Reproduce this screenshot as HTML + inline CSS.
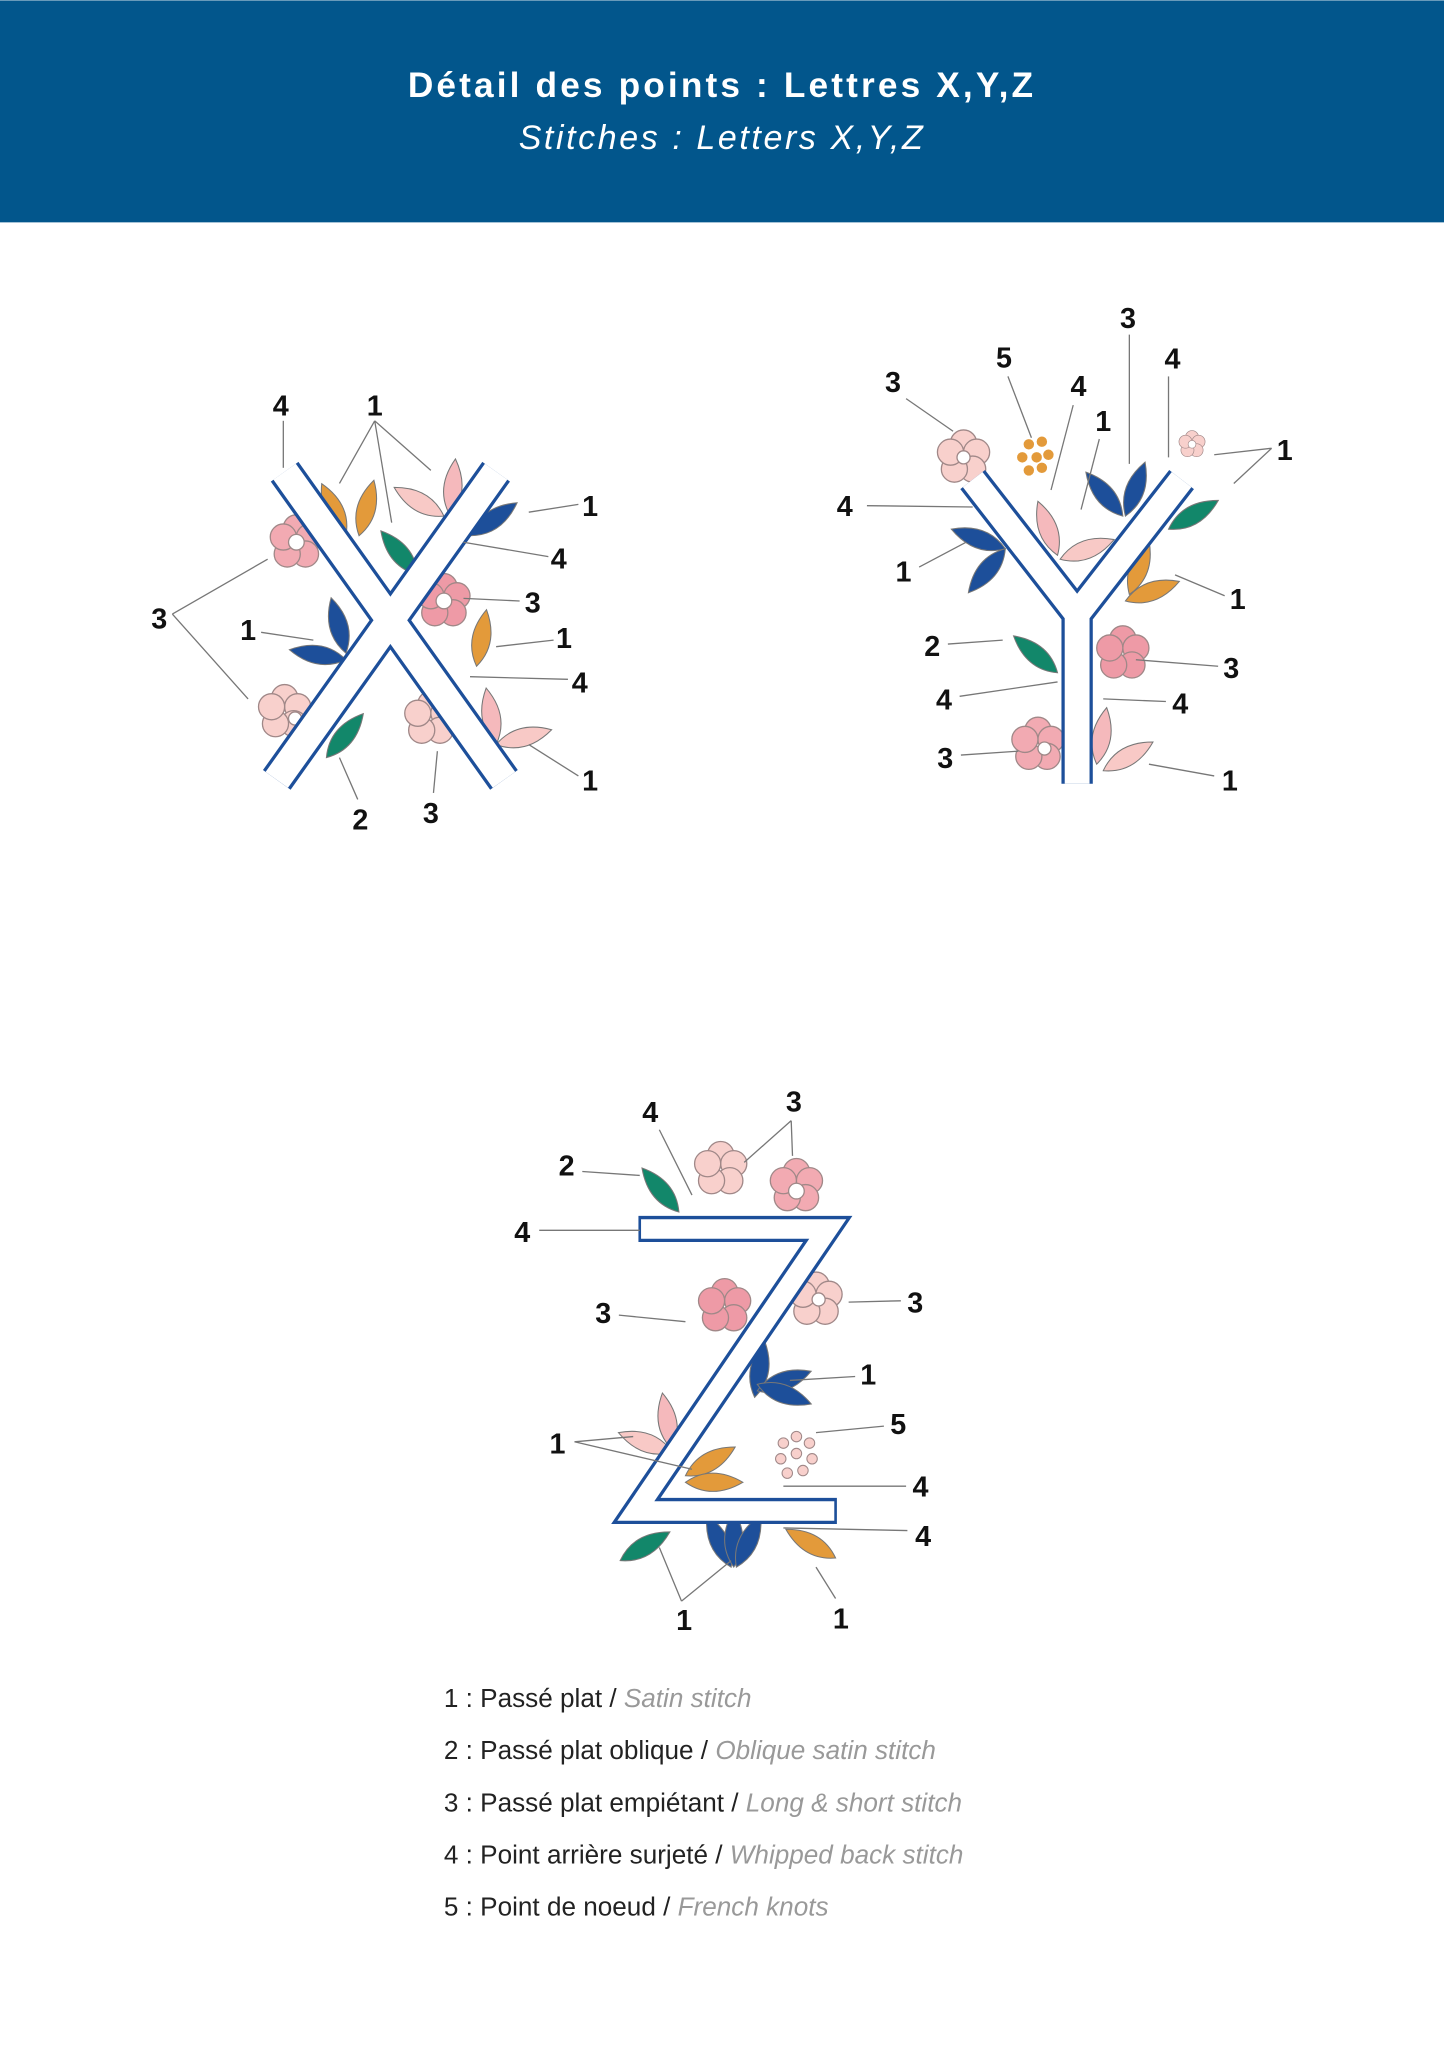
<!DOCTYPE html>
<html><head><meta charset="utf-8"><style>
html,body{margin:0;padding:0;background:#fff}
svg{display:block}
.n{font-family:"Liberation Sans",sans-serif;font-weight:bold;font-size:22px;fill:#111;text-anchor:middle}
.l{stroke:#777;stroke-width:1;fill:none}
.lg{font-family:"Liberation Sans",sans-serif;font-size:20px;fill:#222}
.lg tspan.i{fill:#999;font-style:italic}
</style></head><body>
<svg width="1444" height="2048" viewBox="0 0 1106 1568" xmlns="http://www.w3.org/2000/svg">
<rect x="0" y="0" width="1106" height="170" fill="#02568c"/>
<text x="553" y="74" text-anchor="middle" font-family="Liberation Sans,sans-serif" font-weight="bold" font-size="27" letter-spacing="2.4" fill="#fff">Détail des points : Lettres X,Y,Z</text>
<text x="553" y="114" text-anchor="middle" font-family="Liberation Sans,sans-serif" font-style="italic" font-size="26" letter-spacing="2" fill="#fff">Stitches : Letters X,Y,Z</text>

<defs>
<g id="fl"><circle cx="0" cy="-11" r="10"/><circle cx="10" cy="-4" r="10"/><circle cx="7" cy="9" r="10"/><circle cx="-7" cy="9" r="10"/><circle cx="-10" cy="-4" r="10"/></g>
<g id="lf"><path d="M0,0 Q14,-20 0,-44 Q-14,-20 0,0Z"/></g>
</defs>

<!-- X flowers -->
<g stroke="#a08888" stroke-width="1">
<use href="#fl" x="227" y="415" fill="#f2aab2"/><circle cx="227" cy="415" r="6" fill="#fff"/>
<use href="#fl" x="340" y="460" fill="#ee9aa6"/><circle cx="340" cy="460" r="6" fill="#fff"/>
<use href="#fl" x="218" y="545" fill="#f8d0cc"/><circle cx="226" cy="550" r="5" fill="#fff"/>
<use href="#fl" x="330" y="550" fill="#f8d0cc"/>
</g>
<g stroke="#777" stroke-width="0.8">
<use href="#lf" x="265" y="410" fill="#e39a3a" transform="rotate(-25 265 410)"/>
<use href="#lf" x="275" y="410" fill="#e39a3a" transform="rotate(15 275 410)"/>
<use href="#lf" x="340" y="395" fill="#f8c9c6" transform="rotate(-60 340 395)"/>
<use href="#lf" x="345" y="395" fill="#f5b9bc" transform="rotate(5 345 395)"/>
<use href="#lf" x="360" y="410" fill="#1d4f9a" transform="rotate(55 360 410)"/>
<use href="#lf" x="320" y="440" fill="#12876a" transform="rotate(-40 320 440)"/>
<use href="#lf" x="265" y="505" fill="#1d4f9a" transform="rotate(-80 265 505)"/>
<use href="#lf" x="265" y="500" fill="#1d4f9a" transform="rotate(-15 265 500)"/>
<use href="#lf" x="365" y="510" fill="#e39a3a" transform="rotate(10 365 510)"/>
<use href="#lf" x="250" y="580" fill="#12876a" transform="rotate(40 250 580)"/>
<use href="#lf" x="380" y="570" fill="#f5b9bc" transform="rotate(-10 380 570)"/>
<use href="#lf" x="380" y="570" fill="#f8c9c6" transform="rotate(75 380 570)"/>
</g>
<g fill="none" stroke-linecap="butt">
<path d="M218,361 L386,597 M380,361 L212,597" stroke="#1d4f9a" stroke-width="26"/>
<path d="M218,361 L386,597 M380,361 L212,597" stroke="#fff" stroke-width="21"/>
</g>

<!-- Y flowers -->
<g stroke="#a08888" stroke-width="1">
<use href="#fl" x="738" y="350" fill="#f8d0cc"/><circle cx="738" cy="350" r="5" fill="#fff"/>
<use href="#fl" x="795" y="570" fill="#f2aab2"/><circle cx="800" cy="573" r="5" fill="#fff"/>
<use href="#fl" x="860" y="500" fill="#ee9aa6"/>
<g transform="translate(913 340) scale(0.5)"><use href="#fl" fill="#f8d0cc"/><circle r="6" fill="#fff"/></g>
</g>
<g fill="#e39a3a">
<circle cx="788" cy="340" r="4"/><circle cx="798" cy="338" r="4"/><circle cx="783" cy="350" r="4"/><circle cx="794" cy="350" r="4"/><circle cx="803" cy="348" r="4"/><circle cx="788" cy="360" r="4"/><circle cx="798" cy="358" r="4"/>
</g>
<g stroke="#777" stroke-width="0.8">
<use href="#lf" x="860" y="395" fill="#1d4f9a" transform="rotate(-40 860 395)"/>
<use href="#lf" x="862" y="395" fill="#1d4f9a" transform="rotate(20 862 395)"/>
<use href="#lf" x="895" y="405" fill="#12876a" transform="rotate(60 895 405)"/>
<use href="#lf" x="810" y="425" fill="#f5b9bc" transform="rotate(-20 810 425)"/>
<use href="#lf" x="812" y="428" fill="#f8c9c6" transform="rotate(70 812 428)"/>
<use href="#lf" x="770" y="420" fill="#1d4f9a" transform="rotate(-70 770 420)"/>
<use href="#lf" x="770" y="420" fill="#1d4f9a" transform="rotate(-140 770 420)"/>
<use href="#lf" x="862" y="460" fill="#e39a3a" transform="rotate(70 862 460)"/>
<use href="#lf" x="865" y="455" fill="#e39a3a" transform="rotate(20 865 455)"/>
<use href="#lf" x="810" y="515" fill="#12876a" transform="rotate(-50 810 515)"/>
<use href="#lf" x="845" y="590" fill="#f8c9c6" transform="rotate(60 845 590)"/>
<use href="#lf" x="840" y="585" fill="#f5b9bc" transform="rotate(10 840 585)"/>
</g>
<g fill="none" stroke-linejoin="miter">
<path d="M745,367 L825,470 L905,367 M825,470 L825,600" stroke="#1d4f9a" stroke-width="24"/>
<path d="M745,367 L825,470 L905,367 M825,470 L825,600" stroke="#fff" stroke-width="19"/>
</g>

<!-- Z flowers -->
<g stroke="#a08888" stroke-width="1">
<use href="#fl" x="552" y="895" fill="#f8d0cc"/>
<use href="#fl" x="610" y="908" fill="#f2aab2"/><circle cx="610" cy="912" r="6" fill="#fff"/>
<use href="#fl" x="555" y="1000" fill="#ee9aa6"/>
<use href="#fl" x="625" y="995" fill="#f8d0cc"/><circle cx="627" cy="995" r="5" fill="#fff"/>
</g>
<g fill="#f8d0cc" stroke="#a08888" stroke-width="0.8">
<circle cx="600" cy="1105" r="4"/><circle cx="610" cy="1100" r="4"/><circle cx="620" cy="1105" r="4"/><circle cx="598" cy="1117" r="4"/><circle cx="610" cy="1113" r="4"/><circle cx="622" cy="1117" r="4"/><circle cx="603" cy="1128" r="4"/><circle cx="615" cy="1126" r="4"/>
</g>
<g stroke="#777" stroke-width="0.8">
<use href="#lf" x="520" y="928" fill="#12876a" transform="rotate(-40 520 928)"/>
<use href="#lf" x="578" y="1070" fill="#1d4f9a" transform="rotate(10 578 1070)"/>
<use href="#lf" x="580" y="1065" fill="#1d4f9a" transform="rotate(70 580 1065)"/>
<use href="#lf" x="580" y="1060" fill="#1d4f9a" transform="rotate(110 580 1060)"/>
<use href="#lf" x="515" y="1110" fill="#f5b9bc" transform="rotate(-10 515 1110)"/>
<use href="#lf" x="515" y="1112" fill="#f8c9c6" transform="rotate(-70 515 1112)"/>
<use href="#lf" x="525" y="1130" fill="#e39a3a" transform="rotate(60 525 1130)"/>
<use href="#lf" x="525" y="1135" fill="#e39a3a" transform="rotate(90 525 1135)"/>
<use href="#lf" x="475" y="1195" fill="#12876a" transform="rotate(60 475 1195)"/>
<use href="#lf" x="560" y="1200" fill="#1d4f9a" transform="rotate(-25 560 1200)"/>
<use href="#lf" x="562" y="1200" fill="#1d4f9a" transform="rotate(0 562 1200)"/>
<use href="#lf" x="564" y="1200" fill="#1d4f9a" transform="rotate(25 564 1200)"/>
<use href="#lf" x="640" y="1193" fill="#e39a3a" transform="rotate(-60 640 1193)"/>
</g>
<g fill="none" stroke-linejoin="miter">
<path d="M489,941 L634,941 L487,1157 L641,1157" stroke="#1d4f9a" stroke-width="20"/>
<path d="M491,941 L634,941 L487,1157 L639,1157" stroke="#fff" stroke-width="15"/>
</g>

<g class="l">
<path d="M217,322 L217,358"/>
<path d="M287,322 L260,370 M287,322 L300,400 M287,322 L330,360"/>
<path d="M443,386 L405,392"/><path d="M420,426 L355,415"/><path d="M398,460 L355,458"/>
<path d="M132,470 L205,428 M132,470 L190,535"/><path d="M200,484 L240,490"/>
<path d="M424,490 L380,495"/><path d="M435,520 L360,518"/><path d="M443,594 L405,570"/>
<path d="M274,612 L260,580"/><path d="M332,607 L335,575"/>
<path d="M865,256 L865,355"/><path d="M772,288 L790,335"/><path d="M822,310 L805,375"/><path d="M842,336 L828,390"/>
<path d="M895,288 L895,350"/><path d="M694,305 L730,330"/><path d="M974,343 L930,348 M974,343 L945,370"/>
<path d="M664,387 L745,388"/><path d="M704,434 L740,415"/><path d="M938,456 L900,440"/>
<path d="M726,493 L768,490"/><path d="M933,510 L870,505"/><path d="M735,533 L810,522"/><path d="M893,537 L845,535"/>
<path d="M736,578 L780,575"/><path d="M930,594 L880,585"/>
<path d="M505,865 L530,915"/><path d="M606,858 L570,890 M606,858 L607,885"/><path d="M446,897 L490,900"/>
<path d="M413,942 L490,942"/><path d="M474,1007 L525,1012"/><path d="M690,996 L650,997"/>
<path d="M655,1054 L605,1057"/><path d="M677,1092 L625,1097"/><path d="M440,1104 L485,1100 M440,1104 L530,1125"/>
<path d="M694,1138 L600,1138"/><path d="M695,1172 L600,1170"/><path d="M522,1226 L505,1185 M522,1226 L560,1195"/>
<path d="M640,1224 L625,1200"/>
</g>

<g class="n">
<text x="215" y="318">4</text><text x="287" y="318">1</text><text x="452" y="395">1</text><text x="428" y="435">4</text>
<text x="408" y="469">3</text><text x="122" y="481">3</text><text x="190" y="490">1</text><text x="432" y="496">1</text>
<text x="444" y="530">4</text><text x="452" y="605">1</text><text x="276" y="635">2</text><text x="330" y="630">3</text>
<text x="864" y="251">3</text><text x="769" y="281">5</text><text x="826" y="303">4</text><text x="845" y="330">1</text>
<text x="898" y="282">4</text><text x="684" y="300">3</text><text x="984" y="352">1</text><text x="647" y="395">4</text>
<text x="692" y="445">1</text><text x="948" y="466">1</text><text x="714" y="502">2</text><text x="943" y="519">3</text>
<text x="723" y="543">4</text><text x="904" y="546">4</text><text x="724" y="588">3</text><text x="942" y="605">1</text>
<text x="498" y="859">4</text><text x="608" y="851">3</text><text x="434" y="900">2</text><text x="400" y="951">4</text>
<text x="462" y="1013">3</text><text x="701" y="1005">3</text><text x="665" y="1060">1</text><text x="688" y="1098">5</text>
<text x="427" y="1113">1</text><text x="705" y="1146">4</text><text x="707" y="1184">4</text><text x="524" y="1248">1</text>
<text x="644" y="1247">1</text>
</g>

<g class="lg">
<text x="340" y="1307">1 : Passé plat / <tspan class="i">Satin stitch</tspan></text>
<text x="340" y="1347">2 : Passé plat oblique / <tspan class="i">Oblique satin stitch</tspan></text>
<text x="340" y="1387">3 : Passé plat empiétant / <tspan class="i">Long &amp; short stitch</tspan></text>
<text x="340" y="1427">4 : Point arrière surjeté / <tspan class="i">Whipped back stitch</tspan></text>
<text x="340" y="1467">5 : Point de noeud / <tspan class="i">French knots</tspan></text>
</g>
</svg>
</body></html>
